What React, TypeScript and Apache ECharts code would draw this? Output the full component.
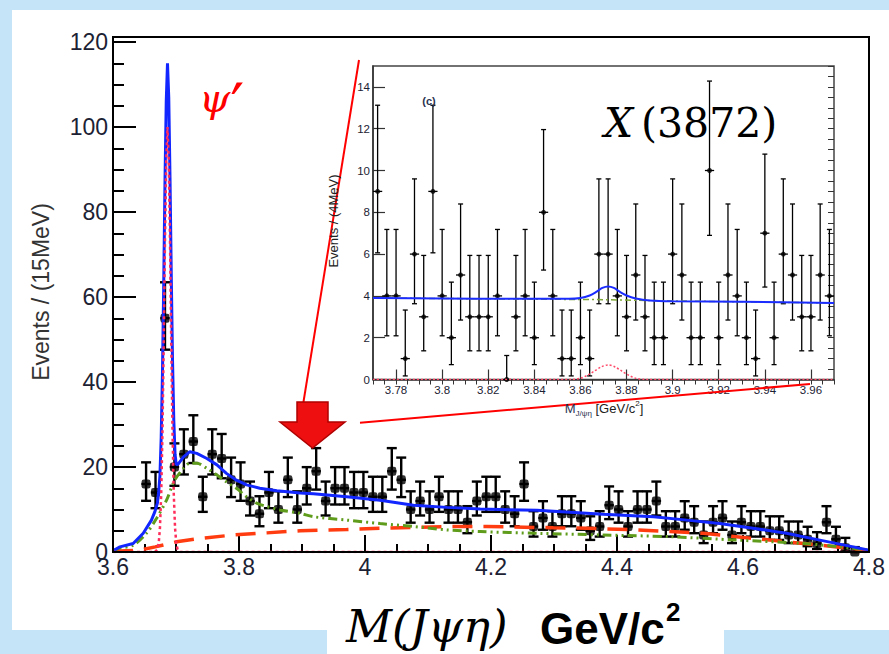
import React, { useEffect, useRef } from "react";
import * as echarts from "echarts";

// ---------------- data ----------------
// main histogram: 15 MeV bins starting at 3.6 GeV, first filled bin index = 3
const mainBinLow = 3.6;
const mainBinWidth = 0.015;
const mainFirstBin = 3;
const mainCounts = [
  16, 14, 55, 20, 23, 26, 13, 23, 22, 17,
  16, 12, 9, 14, 10, 17, 10, 15, 19, 12,
  15, 15, 14, 14, 13, 13, 19, 17, 10, 12,
  10, 13, 10, 10, 7, 12, 13, 13, 10, 9,
  16, 6, 8, 6, 9, 9, 8, 5, 6, 11,
  10, 6, 10, 10, 12, 6, 6, 8, 7, 4,
  7, 8, 4, 7, 6, 6, 5, 5, 4, 4,
  3, 2, 7, 3, 1, 0,
];

// inset histogram: 4 MeV bins from 3.77 GeV
const insetBinLow = 3.77;
const insetBinWidth = 0.004;
const insetCounts = [
  9, 4, 4, 1, 6, 3, 9, 4, 2, 5,
  3, 3, 3, 4, 0, 3, 4, 2, 8, 4,
  1, 1, 2, 1, 6, 6, 4, 3, 5, 3,
  2, 2, 6, 5, 2, 2, 10, 2, 5, 4,
  2, 1, 7, 2, 6, 5, 3, 3, 5, 4,
];

// fitted curves (mass GeV, events)
const mainTotalFit: number[][] = [
  [3.6, 0.3], [3.611, 1.2], [3.632, 2.0], [3.648, 4.4], [3.661, 7.5], [3.6665, 9.5],
  [3.6705, 11.5], [3.6725, 14], [3.6745, 18], [3.6765, 27], [3.6785, 42], [3.6805, 63],
  [3.6825, 87], [3.6845, 106], [3.6865, 115], [3.6885, 107], [3.6905, 88], [3.6925, 65],
  [3.6945, 45], [3.6965, 31], [3.6985, 23], [3.7005, 20.5], [3.704, 20.8], [3.712, 22.4],
  [3.722, 23.6], [3.733, 23.2], [3.749, 22.0], [3.765, 20.5], [3.78, 18.5], [3.796, 16.9],
  [3.812, 15.8], [3.833, 15.0], [3.86, 14.4], [3.897, 13.9], [3.918, 13.7], [3.971, 13.0],
  [4.024, 12.2], [4.077, 11.0], [4.13, 10.5], [4.183, 10.1], [4.273, 9.8], [4.378, 8.9],
  [4.458, 8.3], [4.511, 7.5], [4.563, 6.7], [4.616, 5.6], [4.669, 4.4], [4.722, 2.8],
  [4.775, 1.2], [4.8, 0.4],
];
const mainBkgA: number[][] = [
  [3.6, 0.3], [3.611, 0.9], [3.632, 1.6], [3.653, 4.4], [3.669, 7.9], [3.685, 12.2],
  [3.698, 16.9], [3.712, 19.7], [3.722, 20.9], [3.733, 20.9], [3.749, 19.7], [3.765, 18.1],
  [3.78, 16.5], [3.796, 15.0], [3.812, 13.0], [3.828, 11.5], [3.844, 10.7], [3.865, 9.9],
  [3.897, 9.1], [3.918, 8.3], [3.971, 7.5], [4.024, 6.7], [4.077, 6.0], [4.13, 5.2],
  [4.183, 4.8], [4.273, 4.4], [4.378, 4.0], [4.484, 3.6], [4.59, 2.8], [4.696, 2.0],
  [4.775, 0.9], [4.8, 0.4],
];
const mainBkgB: number[][] = [
  [3.6, 0.2], [3.64, 0.4], [3.667, 1.2], [3.701, 2.4], [3.738, 3.2], [3.791, 4.0],
  [3.844, 4.5], [3.897, 5.0], [3.971, 5.3], [4.024, 5.6], [4.13, 6.0], [4.193, 6.0],
  [4.299, 5.7], [4.352, 5.6], [4.431, 5.2], [4.484, 4.8], [4.537, 4.4], [4.59, 3.6],
  [4.643, 2.8], [4.696, 2.0], [4.749, 1.2], [4.797, 0.4],
];
const mainPsiPeak: number[][] = [
  [3.6, 0], [3.6665, 0], [3.6705, 0.6], [3.6725, 2], [3.6745, 5.6], [3.6765, 13.5],
  [3.6785, 28], [3.6805, 49], [3.6825, 73], [3.6845, 92], [3.6865, 100], [3.6885, 92],
  [3.6905, 73], [3.6925, 49], [3.6945, 28], [3.6965, 13.5], [3.6985, 5.6], [3.7005, 2],
  [3.7025, 0.6], [3.7065, 0], [4.8, 0],
];

const insetTotalFit: number[][] = [
  [3.77, 3.9], [3.8, 3.88], [3.83, 3.86], [3.855, 3.86], [3.86, 3.9], [3.864, 4.02],
  [3.867, 4.2], [3.8695, 4.38], [3.872, 4.45], [3.8745, 4.38], [3.877, 4.2], [3.88, 4.02],
  [3.884, 3.88], [3.89, 3.78], [3.9, 3.74], [3.93, 3.72], [3.97, 3.66],
];
const insetBkg: number[][] = [
  [3.77, 3.9], [3.82, 3.86], [3.87, 3.82], [3.9, 3.76], [3.94, 3.7], [3.97, 3.66],
];
const insetX3872: number[][] = [
  [3.77, 0], [3.856, 0], [3.86, 0.06], [3.863, 0.2], [3.866, 0.4], [3.869, 0.6],
  [3.872, 0.7], [3.875, 0.6], [3.878, 0.4], [3.881, 0.2], [3.884, 0.06], [3.888, 0],
  [3.97, 0],
];

const insetXLabels = [3.78, 3.8, 3.82, 3.84, 3.86, 3.88, 3.9, 3.92, 3.94, 3.96];
const insetYLabels = [0, 2, 4, 6, 8, 10, 12, 14];

// ---------------- helpers ----------------
function poissonBand(n: number): [number, number] {
  if (n === 0) return [0, 1.148];
  const lo = n * Math.pow(1 - 1 / (9 * n) - 1 / (3 * Math.sqrt(n)), 3);
  const hi = n + 1 + Math.sqrt(n + 0.75);
  return [lo, hi];
}

function histPoints(low: number, width: number, first: number, counts: number[]) {
  return counts.map((n, i) => {
    const x = low + (first + i + 0.5) * width;
    const [lo, hi] = poissonBand(n);
    return [x, n, lo, hi];
  });
}

function makeErrorRender(halfBin: number, cap: number, lw: number) {
  return (_params: any, api: any) => {
    const x = api.value(0);
    const n = api.value(1);
    const lo = api.value(2);
    const hi = api.value(3);
    const c = api.coord([x, n]);
    const top = api.coord([x, hi]);
    const bot = api.coord([x, lo]);
    const left = api.coord([x - halfBin, n]);
    const right = api.coord([x + halfBin, n]);
    const st = { stroke: "#000", lineWidth: lw };
    return {
      type: "group",
      children: [
        { type: "line", shape: { x1: top[0], y1: top[1], x2: bot[0], y2: bot[1] }, style: st },
        { type: "line", shape: { x1: top[0] - cap, y1: top[1], x2: top[0] + cap, y2: top[1] }, style: st },
        { type: "line", shape: { x1: bot[0] - cap, y1: bot[1], x2: bot[0] + cap, y2: bot[1] }, style: st },
        { type: "line", shape: { x1: left[0], y1: c[1], x2: right[0], y2: c[1] }, style: st },
      ],
    };
  };
}

const SANS = "Liberation Sans";
const SERIF = "DejaVu Serif";

export default function App() {
  const ref = useRef<HTMLDivElement>(null);

  useEffect(() => {
    if (!ref.current) return;
    const chart = echarts.init(ref.current, undefined, { renderer: "svg" });

    const mainPts = histPoints(mainBinLow, mainBinWidth, mainFirstBin, mainCounts);
    const insetPts = histPoints(insetBinLow, insetBinWidth, 0, insetCounts);

    const labelColor = "#1c2233";

    const option: any = {
      animation: false,
      backgroundColor: "transparent",
      textStyle: { fontFamily: SANS },
      grid: [
        { left: 113, top: 42, width: 756, height: 510, show: false, outerBoundsMode: "none" },
        {
          left: 373, top: 66, width: 461, height: 313.5, show: true, z: 20,
          backgroundColor: "#fff", borderColor: "#444", borderWidth: 1.5, outerBoundsMode: "none",
        },
      ],
      xAxis: [
        {
          type: "value", gridIndex: 0, min: 3.6, max: 4.8, interval: 0.2,
          axisLine: { show: true, onZero: false, lineStyle: { color: "#000", width: 2 } },
          axisTick: { show: true, inside: true, length: 17, lineStyle: { color: "#000", width: 2 } },
          minorTick: { show: true, splitNumber: 4, length: 8, lineStyle: { color: "#000", width: 2 } },
          axisLabel: { color: labelColor, fontSize: 23, margin: 3, fontFamily: SANS },
          splitLine: { show: false },
        },
        {
          type: "value", gridIndex: 1, min: 3.77, max: 3.97, interval: 0.01, z: 21,
          axisLine: { show: true, onZero: false, lineStyle: { color: "#333", width: 1.5 } },
          axisTick: { show: true, inside: true, length: 10, customValues: insetXLabels, lineStyle: { color: "#333", width: 1.2 } },
          axisLabel: {
            color: labelColor, fontSize: 11.5, margin: 4, fontFamily: SANS, customValues: insetXLabels,
            formatter: (v: number) => String(parseFloat(v.toFixed(2))),
          },
          splitLine: { show: false },
        },
        {
          type: "value", gridIndex: 1, min: 3.77, max: 3.97, interval: 0.005, z: 21,
          axisLine: { show: false },
          axisTick: { show: true, inside: true, length: 5, lineStyle: { color: "#333", width: 1 } },
          axisLabel: { show: false },
          splitLine: { show: false },
        },
      ],
      yAxis: [
        {
          type: "value", gridIndex: 0, min: 0, max: 120, interval: 20,
          axisLine: { show: true, onZero: false, lineStyle: { color: "#000", width: 2 } },
          axisTick: { show: true, inside: true, length: 23, lineStyle: { color: "#000", width: 2 } },
          minorTick: { show: true, splitNumber: 4, length: 11, lineStyle: { color: "#000", width: 2 } },
          axisLabel: { color: labelColor, fontSize: 23, margin: 5, fontFamily: SANS },
          splitLine: { show: false },
        },
        {
          type: "value", gridIndex: 1, min: 0, max: 15, interval: 1, z: 21,
          axisLine: { show: true, onZero: false, lineStyle: { color: "#333", width: 1.5 } },
          axisTick: { show: true, inside: true, length: 12, customValues: insetYLabels, lineStyle: { color: "#333", width: 1.2 } },
          axisLabel: { color: labelColor, fontSize: 11.5, margin: 3, fontFamily: SANS, customValues: insetYLabels },
          splitLine: { show: false },
        },
        {
          type: "value", gridIndex: 1, min: 0, max: 15, interval: 0.5, z: 21,
          axisLine: { show: false },
          axisTick: { show: true, inside: true, length: 6, lineStyle: { color: "#333", width: 1 } },
          axisLabel: { show: false },
          splitLine: { show: false },
        },
      ],
      series: [
        // ---- main plot ----
        {
          type: "custom", xAxisIndex: 0, yAxisIndex: 0, z: 3, silent: true,
          renderItem: makeErrorRender(mainBinWidth / 2, 5, 2.4),
          data: mainPts, encode: { x: 0, y: 1 },
        },
        {
          type: "scatter", xAxisIndex: 0, yAxisIndex: 0, z: 4, silent: true,
          symbol: "roundRect", symbolSize: 9, itemStyle: { color: "#000" },
          data: mainPts.map((p) => [p[0], p[1]]),
        },
        {
          type: "line", xAxisIndex: 0, yAxisIndex: 0, z: 5, silent: true, showSymbol: false, symbol: "none",
          data: mainBkgB, lineStyle: { color: "#ff3c10", width: 3.5, type: [20, 11] },
        },
        {
          type: "line", xAxisIndex: 0, yAxisIndex: 0, z: 5, silent: true, showSymbol: false, symbol: "none",
          data: mainBkgA, smooth: 0.3, lineStyle: { color: "#5f9c1c", width: 3, type: [9, 4, 2, 4, 2, 4] },
        },
        {
          type: "line", xAxisIndex: 0, yAxisIndex: 0, z: 6, silent: true, showSymbol: false, symbol: "none",
          data: mainTotalFit, lineStyle: { color: "#1226ff", width: 3 },
        },
        {
          type: "line", xAxisIndex: 0, yAxisIndex: 0, z: 7, silent: true, showSymbol: false, symbol: "none",
          data: mainPsiPeak, lineStyle: { color: "#ff2d5a", width: 2.5, type: [3, 3] },
        },
        // ---- inset ----
        {
          type: "custom", xAxisIndex: 1, yAxisIndex: 1, z: 22, silent: true,
          renderItem: makeErrorRender(insetBinWidth / 2, 2.5, 1.3),
          data: insetPts, encode: { x: 0, y: 1 },
        },
        {
          type: "scatter", xAxisIndex: 1, yAxisIndex: 1, z: 23, silent: true,
          symbol: "circle", symbolSize: 5, itemStyle: { color: "#000" },
          data: insetPts.map((p) => [p[0], p[1]]),
        },
        {
          type: "line", xAxisIndex: 1, yAxisIndex: 1, z: 24, silent: true, showSymbol: false, symbol: "none",
          data: insetBkg, lineStyle: { color: "#7ea636", width: 1.5, type: [6, 3, 2, 3] },
        },
        {
          type: "line", xAxisIndex: 1, yAxisIndex: 1, z: 25, silent: true, showSymbol: false, symbol: "none",
          data: insetTotalFit, smooth: 0.3, lineStyle: { color: "#1a2cff", width: 2 },
        },
        {
          type: "line", xAxisIndex: 1, yAxisIndex: 1, z: 26, silent: true, showSymbol: false, symbol: "none",
          data: insetX3872, smooth: 0.3, lineStyle: { color: "#ff4a6a", width: 1.5, type: [2, 2] },
        },
      ],
      graphic: [
        { type: "rect", z: -10, silent: true, shape: { x: 12, y: 10, width: 877, height: 620 }, style: { fill: "#ffffff" } },
        { type: "rect", z: -10, silent: true, shape: { x: 327, y: 620, width: 397, height: 34 }, style: { fill: "#ffffff" } },
        { type: "rect", z: 10, silent: true, shape: { x: 113, y: 37, width: 756, height: 515 }, style: { fill: "none", stroke: "#000", lineWidth: 2 } },
        // connector lines
        { type: "line", z: 50, silent: true, shape: { x1: 302, y1: 411, x2: 359, y2: 60 }, style: { stroke: "#ff0000", lineWidth: 2 } },
        { type: "line", z: 50, silent: true, shape: { x1: 360, y1: 422.7, x2: 810, y2: 384 }, style: { stroke: "#ff0000", lineWidth: 2 } },
        // arrow
        {
          type: "polygon", z: 50, silent: true,
          shape: { points: [[297, 402], [328, 402], [328, 422], [345, 422], [312.5, 448], [280, 422], [297, 422]] },
          style: { fill: "#ee1010", stroke: "#b00000", lineWidth: 1.5 },
        },
        // psi' label
        {
          type: "text", z: 50, silent: true,
          style: {
            text: "{a|ψ}{b|′}", x: 199, y: 98, verticalAlign: "middle", fill: "#ff0000",
            rich: {
              a: { fontFamily: SERIF, fontStyle: "italic", fontSize: 40, lineHeight: 46, fill: "#ff0000" },
              b: { fontFamily: SERIF, fontSize: 62, lineHeight: 46, fill: "#ff0000", verticalAlign: "top" },
            },
          },
        },
        // X(3872)
        {
          type: "text", z: 50, silent: true,
          style: { text: "X", x: 604, y: 123, fontFamily: SERIF, fontStyle: "italic", fontSize: 41, fill: "#000", verticalAlign: "middle" },
        },
        {
          type: "text", z: 50, silent: true,
          style: { text: "(3872)", x: 641, y: 123, fontFamily: SERIF, fontSize: 41, fill: "#000", verticalAlign: "middle" },
        },
        // (c)
        {
          type: "text", z: 50, silent: true,
          style: { text: "(c)", x: 429, y: 101, fontFamily: SANS, fontWeight: "bold", fontSize: 11, fill: "#2a3350", align: "center", verticalAlign: "middle" },
        },
        // main y title
        {
          type: "text", z: 50, silent: true, x: 41, y: 292, rotation: Math.PI / 2,
          style: { text: "Events / (15MeV)", x: 0, y: 0, fontFamily: SANS, fontSize: 23, fill: "#333", align: "center", verticalAlign: "middle" },
        },
        // inset y title
        {
          type: "text", z: 50, silent: true, x: 333, y: 221, rotation: Math.PI / 2,
          style: { text: "Events / (4MeV)", x: 0, y: 0, fontFamily: SANS, fontSize: 13, fill: "#222", align: "center", verticalAlign: "middle" },
        },
        // inset x title
        {
          type: "text", z: 50, silent: true,
          style: {
            text: "{m|M}{s|J/ψη}{n| [GeV/c}{p|2}{n|]}", x: 604, y: 408, align: "center", verticalAlign: "middle",
            fontFamily: SANS, fill: "#222",
            rich: {
              m: { fontSize: 13, lineHeight: 18, fontFamily: SANS, fill: "#2a3350" },
              s: { fontSize: 8, lineHeight: 10, verticalAlign: "bottom", fontFamily: SANS, fill: "#2a3350" },
              n: { fontSize: 13, lineHeight: 18, fontFamily: SANS, fill: "#222" },
              p: { fontSize: 8, lineHeight: 10, verticalAlign: "top", fontFamily: SANS, fill: "#222" },
            },
          },
        },
        // bottom title
        {
          type: "text", z: 50, silent: true,
          style: { text: "M(Jψη)", x: 346, y: 626, fontFamily: SERIF, fontStyle: "italic", fontSize: 45, fill: "#000", verticalAlign: "middle" },
        },
        {
          type: "text", z: 50, silent: true,
          style: { text: "GeV/c", x: 540, y: 628, fontFamily: SANS, fontWeight: "bold", fontSize: 44, fill: "#000", verticalAlign: "middle" },
        },
        {
          type: "text", z: 50, silent: true,
          style: { text: "2", x: 666, y: 612, fontFamily: SANS, fontWeight: "bold", fontSize: 26, fill: "#000", verticalAlign: "middle" },
        },
      ],
    };

    chart.setOption(option);
    return () => chart.dispose();
  }, []);

  return (
    <div
      ref={ref}
      style={{ position: "fixed", left: 0, top: 0, width: 889, height: 654, background: "#c6e4f8" }}
    />
  );
}
